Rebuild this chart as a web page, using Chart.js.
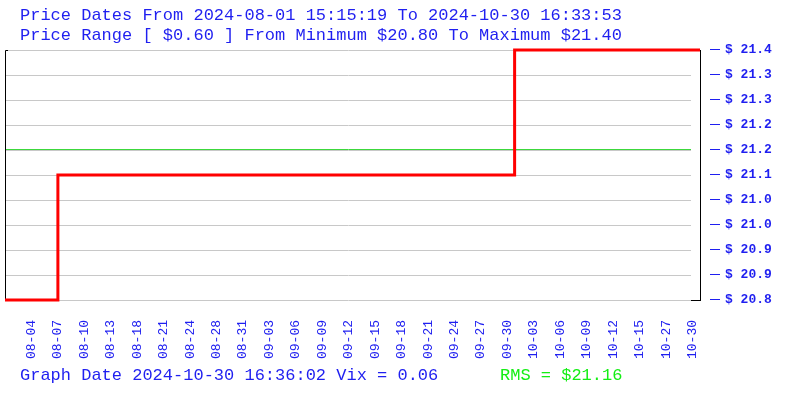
<!DOCTYPE html>
<html>
<head>
<meta charset="utf-8">
<script src="https://cdn.jsdelivr.net/npm/chart.js@4/dist/chart.umd.min.js"></script>
<style>
  body { margin: 0; background: #fff; }
</style>
</head>
<body>
<canvas id="priceChart" width="800" height="400"></canvas>
<script>
// tanggal di sumbu x (satu label per posisi 1..26)
const dateLabels = ['08-04', '08-07', '08-10', '08-13', '08-18', '08-21', '08-24', '08-28', '08-31',
    '09-03', '09-06', '09-09', '09-12', '09-15', '09-18', '09-21', '09-24', '09-27', '09-30',
    '10-03', '10-06', '10-09', '10-12', '10-15', '10-27', '10-30'];

// titik perubahan harga (posisi x dalam satuan label)
const stepX = [0, 2, 19.27, 26.28];
const stepPrice = [20.80, 21.10, 21.40, 21.40];

const priceMin = 20.80;
const priceMax = 21.40;
const priceStep = 0.06;
const rmsPrice = 21.16;

const titleLines = [
    'Price Dates From 2024-08-01 15:15:19 To 2024-10-30 16:33:53',
    'Price Range [ $0.60 ] From Minimum $20.80 To Maximum $21.40'
];
const footerText = 'Graph Date 2024-10-30 16:36:02 Vix = 0.06';
const rmsText = 'RMS = $21.16';

const BLUE = '#1f1ff0';
const GREEN = '#14ee14';
const MONO = '"Liberation Mono", "DejaVu Sans Mono", monospace';

// garis grid, garis RMS, bingkai dan teks judul
const framePlugin = {
    id: 'frame',
    beforeDatasetsDraw(chart) {
        const { ctx, chartArea: a, scales: { y } } = chart;
        ctx.save();
        ctx.lineWidth = 1;
        y.ticks.forEach(t => {
            const py = Math.round(y.getPixelForValue(t.value)) + 0.5;
            ctx.strokeStyle = '#c8c8c8';
            ctx.beginPath();
            ctx.moveTo(a.left + 1, py);
            ctx.lineTo(a.right - 9, py);
            ctx.stroke();
            // tanda strip biru di depan label
            ctx.strokeStyle = BLUE;
            ctx.beginPath();
            ctx.moveTo(a.right + 10, py - 1);
            ctx.lineTo(a.right + 20, py - 1);
            ctx.stroke();
        });
        // garis RMS
        const ry = Math.round(y.getPixelForValue(rmsPrice)) - 0.5;
        ctx.strokeStyle = '#3cd83c';
        ctx.beginPath();
        ctx.moveTo(a.left + 1, ry);
        ctx.lineTo(a.right - 9, ry);
        ctx.stroke();
        // bingkai hitam
        ctx.strokeStyle = '#000';
        ctx.beginPath();
        ctx.moveTo(a.left + 3, a.top + 0.5);
        ctx.lineTo(a.left + 0.5, a.top + 0.5);
        ctx.lineTo(a.left + 0.5, a.bottom);
        ctx.moveTo(a.right - 9, a.bottom + 0.5);
        ctx.lineTo(a.right, a.bottom + 0.5);
        ctx.stroke();
        ctx.restore();
    },
    afterDraw(chart) {
        const ctx = chart.ctx;
        ctx.save();
        ctx.font = '17px ' + MONO;
        ctx.textBaseline = 'middle';
        ctx.textAlign = 'left';
        ctx.fillStyle = BLUE;
        ctx.fillText(titleLines[0], 20, 15);
        ctx.fillText(titleLines[1], 20, 35);
        ctx.fillText(footerText, 20, 375);
        ctx.fillStyle = GREEN;
        ctx.fillText(rmsText, 500, 375);
        ctx.restore();
    }
};

const ctx = document.getElementById('priceChart').getContext('2d');
new Chart(ctx, {
    type: 'line',
    data: {
        datasets: [{
            label: 'Price',
            data: stepX.map((x, i) => ({ x: x, y: stepPrice[i] })),
            stepped: 'before',
            borderColor: '#ff0000',
            borderWidth: 3,
            pointRadius: 0,
            fill: false,
            clip: false
        }]
    },
    options: {
        responsive: false,
        devicePixelRatio: 1,
        animation: false,
        layout: { padding: { top: 50, left: 5, right: 0, bottom: 0 } },
        scales: {
            x: {
                type: 'linear',
                min: 0,
                max: stepX[stepX.length - 1],
                afterBuildTicks: function (scale) {
                    scale.ticks = dateLabels.map((_, i) => ({ value: i + 1 }));
                },
                afterFit: function (scale) { scale.height = 100; },
                grid: { display: false, drawTicks: false },
                border: { display: false },
                ticks: {
                    autoSkip: false,
                    minRotation: 90,
                    maxRotation: 90,
                    padding: 20,
                    color: BLUE,
                    font: { family: MONO, size: 13 },
                    callback: function (value) {
                        return dateLabels[value - 1];
                    }
                }
            },
            y: {
                position: 'right',
                min: priceMin,
                max: priceMax,
                afterFit: function (scale) { scale.width = 100; },
                grid: { display: false, drawTicks: false },
                border: { display: true, color: '#000', width: 1 },
                ticks: {
                    stepSize: priceStep,
                    padding: 25,
                    color: BLUE,
                    font: { family: MONO, size: 13, weight: 'bold' },
                    callback: function (value) {
                        return '$ ' + value.toFixed(1);
                    }
                }
            }
        },
        plugins: {
            legend: { display: false },
            tooltip: { enabled: false }
        }
    },
    plugins: [framePlugin]
});
</script>
</body>
</html>
